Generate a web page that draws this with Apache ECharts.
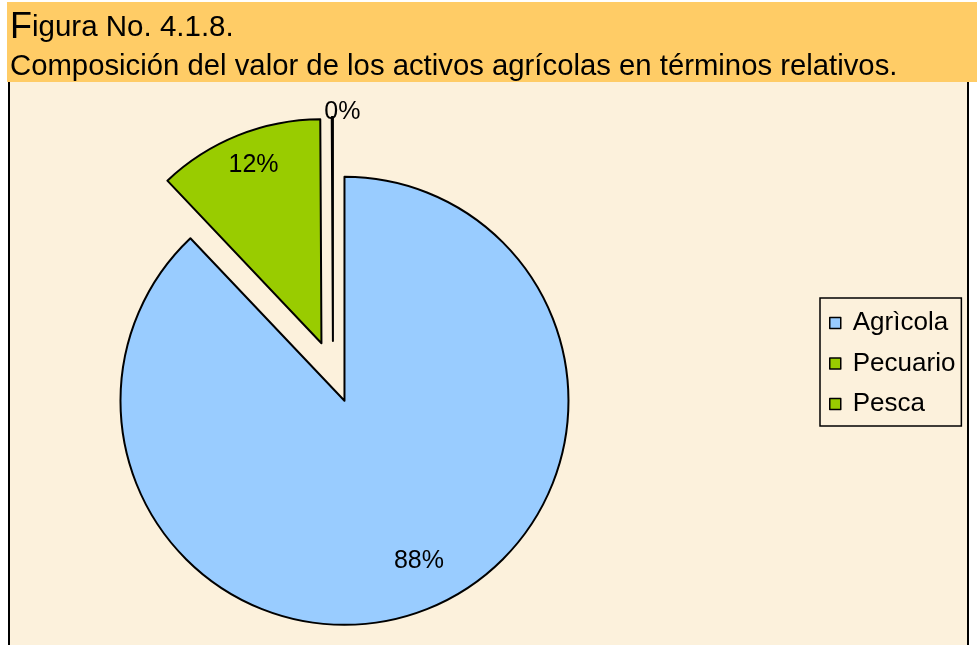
<!DOCTYPE html>
<html>
<head>
<meta charset="utf-8">
<script src="https://cdn.jsdelivr.net/npm/echarts@6/dist/echarts.min.js"></script>
<style>
  html, body { margin: 0; padding: 0; background: #ffffff; }
  #chart { width: 977px; height: 645px; }
</style>
</head>
<body>
<div id="chart"></div>
<script>
// Asset composition (percent of total value)
const categories = ['Agrìcola', 'Pecuario', 'Pesca'];
const shares = [88, 12, 0];
const sliceColors = ['#99CCFF', '#99CC00', '#99CC00'];

const titleLine1 = 'Figura No. 4.1.8.';
const titleLine2 = 'Composición del valor de los activos agrícolas en términos relativos.';

// every slice is pulled out from the centre by the same distance
const pieCenter = [333, 372];
const pieRadius = 224;
const explodeOffset = 31;
const thinSliceAngle = 0.3; // keeps a zero share visible as a hairline wedge

const fontFamily = 'Liberation Sans, Arial, sans-serif';

const sliceData = categories.map((name, i) => ({
  name: name,
  value: shares[i],
  selected: true,
  itemStyle: { color: sliceColors[i] }
}));

const chart = echarts.init(document.getElementById('chart'), null, { renderer: 'canvas' });

chart.setOption({
  backgroundColor: '#ffffff',
  animation: false,
  textStyle: { fontFamily: fontFamily, fontWeight: 'normal' },
  graphic: [
    // header band
    { type: 'rect', shape: { x: 7, y: 2, width: 970, height: 80 }, style: { fill: '#FFCC66' }, z: 0 },
    // chart area
    { type: 'rect', shape: { x: 8, y: 82, width: 961, height: 570 }, style: { fill: '#FCF1DC' }, z: 0 },
    { type: 'line', shape: { x1: 9, y1: 82, x2: 9, y2: 645 }, style: { stroke: '#000', lineWidth: 2 }, z: 1 },
    { type: 'line', shape: { x1: 968, y1: 82, x2: 968, y2: 645 }, style: { stroke: '#000', lineWidth: 2 }, z: 1 }
  ],
  title: {
    left: 10,
    top: 8,
    padding: 0,
    text: '{a|' + titleLine1.charAt(0) + '}{b|' + titleLine1.slice(1) + '}\n{c|' + titleLine2 + '}',
    textStyle: {
      fontWeight: 'normal',
      rich: {
        a: { fontSize: 36, color: '#000', fontFamily: fontFamily, fontWeight: 'normal', lineHeight: 40 },
        b: { fontSize: 29.5, color: '#000', fontFamily: fontFamily, fontWeight: 'normal', lineHeight: 40 },
        c: { fontSize: 29.3, color: '#000', fontFamily: fontFamily, fontWeight: 'normal', lineHeight: 37 }
      }
    }
  },
  legend: {
    orient: 'vertical',
    left: 820,
    top: 298,
    padding: [12, 6, 9, 9],
    itemGap: 14.5,
    itemWidth: 11,
    itemHeight: 11,
    icon: 'rect',
    backgroundColor: 'transparent',
    borderColor: '#000',
    borderWidth: 1.5,
    data: categories,
    itemStyle: { borderColor: '#000', borderWidth: 1.5 },
    textStyle: { fontSize: 26, color: '#000', lineHeight: 26, padding: [0, 0, 0, 7] }
  },
  series: [
    {
      name: 'Valor',
      type: 'pie',
      center: pieCenter,
      radius: [0, pieRadius],
      startAngle: 90,
      clockwise: true,
      minAngle: thinSliceAngle,
      selectedMode: 'multiple',
      selectedOffset: explodeOffset,
      avoidLabelOverlap: false,
      itemStyle: { borderColor: '#000', borderWidth: 2 },
      emphasis: { disabled: true },
      data: sliceData.map(d => ({
        ...d,
        label: d.name === 'Pesca'
          ? { show: true, position: 'outside', formatter: '{d}%', fontSize: 25, color: '#000' }
          : { show: false }
      })),
      label: { show: false },
      labelLine: { show: false, length: 0, length2: 0 },
      labelLayout: function () {
        return { align: 'left', dx: -3, dy: -5 };
      }
    },
    {
      // percentage labels placed further out along each slice
      name: 'Etiquetas',
      type: 'pie',
      center: pieCenter,
      radius: [0, pieRadius * 1.6],
      startAngle: 90,
      clockwise: true,
      minAngle: thinSliceAngle,
      selectedMode: 'multiple',
      selectedOffset: explodeOffset,
      silent: true,
      legendHoverLink: false,
      z: 3,
      itemStyle: { color: 'rgba(0,0,0,0)', borderWidth: 0 },
      emphasis: { disabled: true },
      data: sliceData.map(d => ({
        name: d.name,
        value: d.value,
        selected: d.selected,
        itemStyle: { color: 'rgba(0,0,0,0)' },
        label: { show: d.name !== 'Pesca' }
      })),
      label: {
        position: 'inside',
        formatter: '{d}%',
        fontSize: 25,
        color: '#000'
      },
      labelLine: { show: false },
      labelLayout: function (params) {
        return { dx: params.dataIndex === 0 ? 7 : 0, dy: -9 };
      }
    }
  ]
});
</script>
</body>
</html>
